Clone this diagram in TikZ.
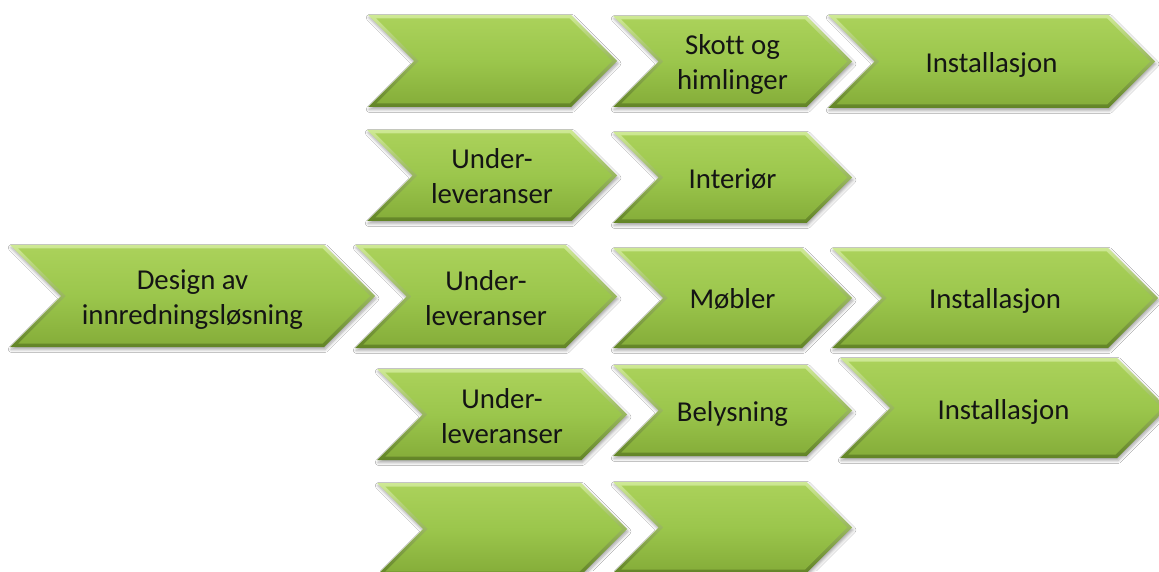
\documentclass[tikz,border=0pt]{standalone}
\usepackage{fontspec}
\setmainfont{Carlito}[Ligatures={NoCommon}]
\usetikzlibrary{shadows.blur}
\definecolor{bodytop}{RGB}{170,209,90}
\definecolor{bodymid}{RGB}{155,198,76}
\definecolor{bodybot}{RGB}{134,174,58}
\definecolor{beveltop}{RGB}{206,233,148}
\definecolor{bevelbot}{RGB}{98,132,38}
\tikzset{
  bevelshade/.style={top color=beveltop, bottom color=bevelbot,
    blur shadow={shadow xshift=1pt, shadow yshift=-2.5pt, shadow blur radius=3pt, shadow opacity=35}},
  bodyshade/.style={top color=bodytop, bottom color=bodybot, middle color=bodymid},
  chevtext/.style={align=center, font=\fontsize{28.8}{35}\selectfont, text=black!92, inner sep=0pt}
}
\newcommand\chs{\rule[-6.5pt]{0pt}{35pt}}
% #1 name, #2 left x, #3 tip x, #4 top y (px, downward), #5 bottom y, #6 text
\newcommand\chev[6]{%
  \pgfmathsetmacro\chh{(#5-#4)/2}%
  \pgfmathsetmacro\cyt{571-#4}%
  \pgfmathsetmacro\cyb{571-#5}%
  \pgfmathsetmacro\cym{571-(#4+#5)/2}%
  \pgfmathsetmacro\cxm{(#2+#3)/2}%
  \pgfmathsetmacro\cd{3.5}%
  \pgfmathsetmacro\cs{\cd*1.4142}%
  \path[bevelshade] (#2,\cyt) -- (#3-\chh,\cyt) -- (#3,\cym) -- (#3-\chh,\cyb) -- (#2,\cyb) -- (#2+\chh,\cym) -- cycle;
  \path[bodyshade] (#2+\cs+\cd,\cyt-\cd) -- (#3-\chh-\cs+\cd,\cyt-\cd) -- (#3-\cs,\cym) -- (#3-\chh-\cs+\cd,\cyb+\cd) -- (#2+\cs+\cd,\cyb+\cd) -- (#2+\chh+\cs,\cym) -- cycle;
  \node[chevtext] (#1) at (\cxm,\cym) {#6};
}
\begin{document}
\begin{tikzpicture}[x=1pt,y=1pt]
\useasboundingbox[fill=white] (0,0) rectangle (1159,571);
\chev{a1}{368}{617}{15}{107}{}
\chev{b1}{613}{852}{16}{107}{\chs Skott og\\\chs himlinger}
\chev{c1}{828}{1155}{15}{108}{\chs Installasjon}
\chev{a2}{367}{617}{130}{221}{\chs Under-\\\chs leveranser}
\chev{b2}{613}{852}{132}{223}{\chs Interiør}
\chev{m}{10}{375}{245}{347}{\chs Design av\\\chs innredningsløsning}
\chev{a3}{355}{617}{245}{348}{\chs Under-\\\chs leveranser}
\chev{b3}{613}{852}{248}{348}{\chs Møbler}
\chev{c3}{832}{1158}{248}{348}{\chs Installasjon}
\chev{a4}{377}{627}{369}{460}{\chs Under-\\\chs leveranser}
\chev{b4}{613}{852}{365}{456}{\chs Belysning}
\chev{c4}{840}{1167}{358}{458}{\chs Installasjon}
\chev{a5}{377}{627}{483}{575}{}
\chev{b5}{613}{852}{482}{573}{}
\end{tikzpicture}
\end{document}
